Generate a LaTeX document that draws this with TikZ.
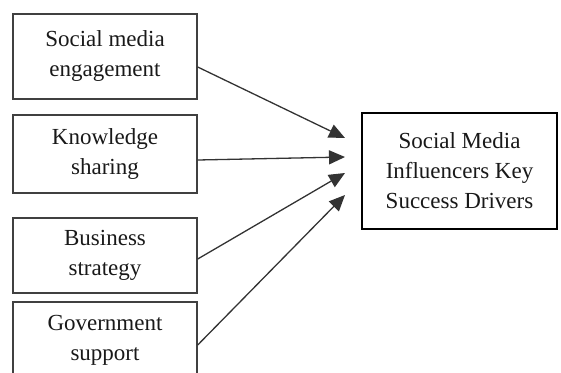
\documentclass[tikz,border=0pt]{standalone}
\usepackage{fontspec}
\setmainfont{Liberation Serif}
\usetikzlibrary{arrows.meta}
\begin{document}
\begin{tikzpicture}[x=1pt,y=-1pt,
  every node/.style={font=\fontsize{23}{30}\selectfont, text=black!90, align=center, inner sep=0pt},
  factor/.style={draw=black!75, line width=1.4pt, minimum width=184pt},
  outcome/.style={draw=black, line width=2.4pt, minimum width=195pt, minimum height=116pt},
  link/.style={draw=black!80, line width=1.3pt, -{Triangle[length=16pt,width=14pt]}}]
\useasboundingbox (0,0) rectangle (561,372);
\clip (0,0) rectangle (561,372);
% input factors
\node[factor, minimum height=85pt]  (b1) at (105,56.5) {Social media\\engagement};
\node[factor, minimum height=78pt]  (b2) at (105,154)  {Knowledge\\sharing};
\node[factor, minimum height=75pt]  (b3) at (105,255.5){Business\\strategy};
\node[factor, minimum height=76pt]  (b4) at (105,340)  {Government\\support};
% outcome
\node[outcome] (r) at (459.5,171) {Social Media\\Influencers Key\\Success Drivers};
% arrow tips in front of the outcome box
\coordinate (t1) at (345,138);
\coordinate (t2) at (345,157);
\coordinate (t3) at (345,173);
\coordinate (t4) at (345,195);
\draw[link] ([yshift=-10.5pt]b1.east) -- (t1);
\draw[link] ([yshift=-6pt]b2.east) -- (t2);
\draw[link] ([yshift=-3.5pt]b3.east) -- (t3);
\draw[link] ([yshift=-5pt]b4.east) -- (t4);
\end{tikzpicture}
\end{document}
